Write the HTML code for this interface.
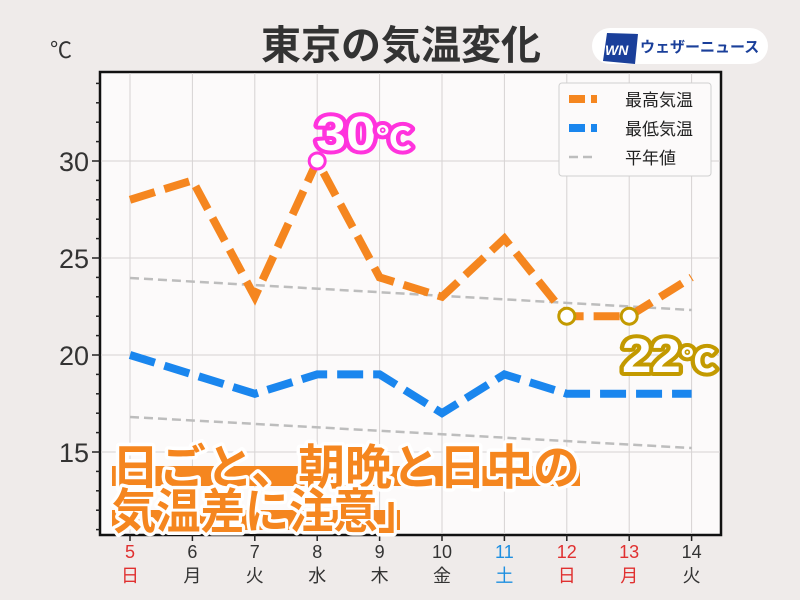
<!DOCTYPE html>
<html><head><meta charset="utf-8"><style>
html,body{margin:0;padding:0;background:#efebea;}
svg{display:block;font-family:"Liberation Sans","Noto Sans CJK JP",sans-serif;}
</style></head><body>
<svg width="800" height="600" viewBox="0 0 800 600" xmlns="http://www.w3.org/2000/svg">
<rect width="800" height="600" fill="#efebea"/>
<text x="401" y="59" text-anchor="middle" font-size="40" font-weight="bold" fill="#333">東京の気温変化</text>
<text x="50" y="58" font-size="22" fill="#333">℃</text>
<rect x="592" y="28" width="176" height="36" rx="18" fill="#fff"/>
<polygon points="607,33 638,34 635,64 603,61" fill="#1a3f9a"/>
<text x="605" y="55" font-size="14" font-weight="bold" font-style="italic" fill="#fff">WN</text>
<text x="640" y="52" font-size="15" font-weight="bold" fill="#1a3f9a">ウェザーニュース</text>
<rect x="100" y="72" width="621" height="463" fill="#fcfafa" stroke="#111" stroke-width="2.5"/>
<g stroke="#d6d3d3" stroke-width="1">
<line x1="130" y1="73" x2="130" y2="534"/><line x1="192.4" y1="73" x2="192.4" y2="534"/><line x1="254.8" y1="73" x2="254.8" y2="534"/><line x1="317.2" y1="73" x2="317.2" y2="534"/><line x1="379.6" y1="73" x2="379.6" y2="534"/><line x1="442" y1="73" x2="442" y2="534"/><line x1="504.4" y1="73" x2="504.4" y2="534"/><line x1="566.8" y1="73" x2="566.8" y2="534"/><line x1="629.2" y1="73" x2="629.2" y2="534"/><line x1="691.6" y1="73" x2="691.6" y2="534"/>
<line x1="101" y1="161" x2="720" y2="161"/><line x1="101" y1="258" x2="720" y2="258"/><line x1="101" y1="355" x2="720" y2="355"/><line x1="101" y1="452" x2="720" y2="452"/>
</g>
<g stroke="#222" stroke-width="1.5">
<line x1="92" y1="161" x2="100" y2="161"/><line x1="92" y1="258" x2="100" y2="258"/><line x1="92" y1="355" x2="100" y2="355"/><line x1="92" y1="452" x2="100" y2="452"/>
<line x1="96" y1="83.4" x2="100" y2="83.4"/><line x1="96" y1="102.8" x2="100" y2="102.8"/><line x1="96" y1="122.2" x2="100" y2="122.2"/><line x1="96" y1="141.6" x2="100" y2="141.6"/>
<line x1="96" y1="180.4" x2="100" y2="180.4"/><line x1="96" y1="199.8" x2="100" y2="199.8"/><line x1="96" y1="219.2" x2="100" y2="219.2"/><line x1="96" y1="238.6" x2="100" y2="238.6"/>
<line x1="96" y1="277.4" x2="100" y2="277.4"/><line x1="96" y1="296.8" x2="100" y2="296.8"/><line x1="96" y1="316.2" x2="100" y2="316.2"/><line x1="96" y1="335.6" x2="100" y2="335.6"/>
<line x1="96" y1="374.4" x2="100" y2="374.4"/><line x1="96" y1="393.8" x2="100" y2="393.8"/><line x1="96" y1="413.2" x2="100" y2="413.2"/><line x1="96" y1="432.6" x2="100" y2="432.6"/>
<line x1="96" y1="471.4" x2="100" y2="471.4"/><line x1="96" y1="490.8" x2="100" y2="490.8"/><line x1="96" y1="510.2" x2="100" y2="510.2"/><line x1="96" y1="529.6" x2="100" y2="529.6"/>
</g>
<g font-size="27" fill="#333" text-anchor="end">
<text x="89" y="171">30</text><text x="89" y="268">25</text><text x="89" y="365">20</text><text x="89" y="462">15</text>
</g>
<g stroke="#222" stroke-width="1.5">
<line x1="130" y1="535" x2="130" y2="541"/><line x1="192.4" y1="535" x2="192.4" y2="541"/><line x1="254.8" y1="535" x2="254.8" y2="541"/><line x1="317.2" y1="535" x2="317.2" y2="541"/><line x1="379.6" y1="535" x2="379.6" y2="541"/><line x1="442" y1="535" x2="442" y2="541"/><line x1="504.4" y1="535" x2="504.4" y2="541"/><line x1="566.8" y1="535" x2="566.8" y2="541"/><line x1="629.2" y1="535" x2="629.2" y2="541"/><line x1="691.6" y1="535" x2="691.6" y2="541"/>
</g>
<g font-size="18" text-anchor="middle">
<text x="130" y="558" fill="#e03030">5</text><text x="192.4" y="558" fill="#333">6</text><text x="254.8" y="558" fill="#333">7</text><text x="317.2" y="558" fill="#333">8</text><text x="379.6" y="558" fill="#333">9</text><text x="442" y="558" fill="#333">10</text><text x="504.4" y="558" fill="#1e8fe0">11</text><text x="566.8" y="558" fill="#e03030">12</text><text x="629.2" y="558" fill="#e03030">13</text><text x="691.6" y="558" fill="#333">14</text>
<text x="130" y="582" fill="#e03030">日</text><text x="192.4" y="582" fill="#333">月</text><text x="254.8" y="582" fill="#333">火</text><text x="317.2" y="582" fill="#333">水</text><text x="379.6" y="582" fill="#333">木</text><text x="442" y="582" fill="#333">金</text><text x="504.4" y="582" fill="#1e8fe0">土</text><text x="566.8" y="582" fill="#e03030">日</text><text x="629.2" y="582" fill="#e03030">月</text><text x="691.6" y="582" fill="#333">火</text>
</g>
<line x1="130" y1="278" x2="691.6" y2="310" stroke="#bdbdbd" stroke-width="2.5" stroke-dasharray="9,5"/>
<line x1="130" y1="417" x2="691.6" y2="448" stroke="#bdbdbd" stroke-width="2.5" stroke-dasharray="9,5"/>
<polyline points="130,199.8 192.4,180.4 254.8,296.8 317.2,161 379.6,277.4 442,296.8 504.4,238.6 566.8,316.2 629.2,316.2 691.6,277.4" fill="none" stroke="#f5861f" stroke-width="8" stroke-dasharray="26,10"/>
<polyline points="130,355 192.4,374.4 254.8,393.8 317.2,374.4 379.6,374.4 442,413.2 504.4,374.4 566.8,393.8 629.2,393.8 691.6,393.8" fill="none" stroke="#1a86ee" stroke-width="8" stroke-dasharray="26,10"/>
<circle cx="317.2" cy="161" r="8" fill="#fff" stroke="#ff33dd" stroke-width="3"/>
<circle cx="566.8" cy="316.2" r="8" fill="#fff" stroke="#c39a00" stroke-width="3"/>
<circle cx="629.2" cy="316.2" r="8" fill="#fff" stroke="#c39a00" stroke-width="3"/>
<g font-weight="bold" stroke-linejoin="round" paint-order="stroke">
<text x="316" y="150" font-size="48" fill="#fff" stroke="#ff33dd" stroke-width="8" textLength="96" lengthAdjust="spacingAndGlyphs">30<tspan font-size="32">℃</tspan></text>
<text x="622" y="372" font-size="48" fill="#fff" stroke="#c39a00" stroke-width="8" textLength="94" lengthAdjust="spacingAndGlyphs">22<tspan font-size="32">℃</tspan></text>
<rect x="112" y="466" width="468" height="20" fill="#f5861f"/>
<rect x="112" y="510" width="288" height="20" fill="#f5861f"/>
<text x="112" y="484" font-size="48" fill="#f5861f" stroke="#fff" stroke-width="7" textLength="468" lengthAdjust="spacingAndGlyphs">日ごと、朝晩と日中の</text>
<text x="112" y="528" font-size="48" fill="#f5861f" stroke="#fff" stroke-width="7" textLength="310" lengthAdjust="spacingAndGlyphs">気温差に注意」</text>
</g>
<rect x="559" y="83" width="152" height="93" rx="3" fill="#fcfafa" stroke="#d0d0d0" stroke-width="1"/>
<line x1="569" y1="99" x2="597" y2="99" stroke="#f5861f" stroke-width="8" stroke-dasharray="16,6"/>
<line x1="569" y1="128" x2="597" y2="128" stroke="#1a86ee" stroke-width="8" stroke-dasharray="16,6"/>
<line x1="569" y1="157" x2="597" y2="157" stroke="#bdbdbd" stroke-width="2.5" stroke-dasharray="9,5"/>
<g font-size="17" fill="#222">
<text x="625" y="106">最高気温</text><text x="625" y="135">最低気温</text><text x="625" y="164">平年値</text>
</g>
</svg>
</body></html>
